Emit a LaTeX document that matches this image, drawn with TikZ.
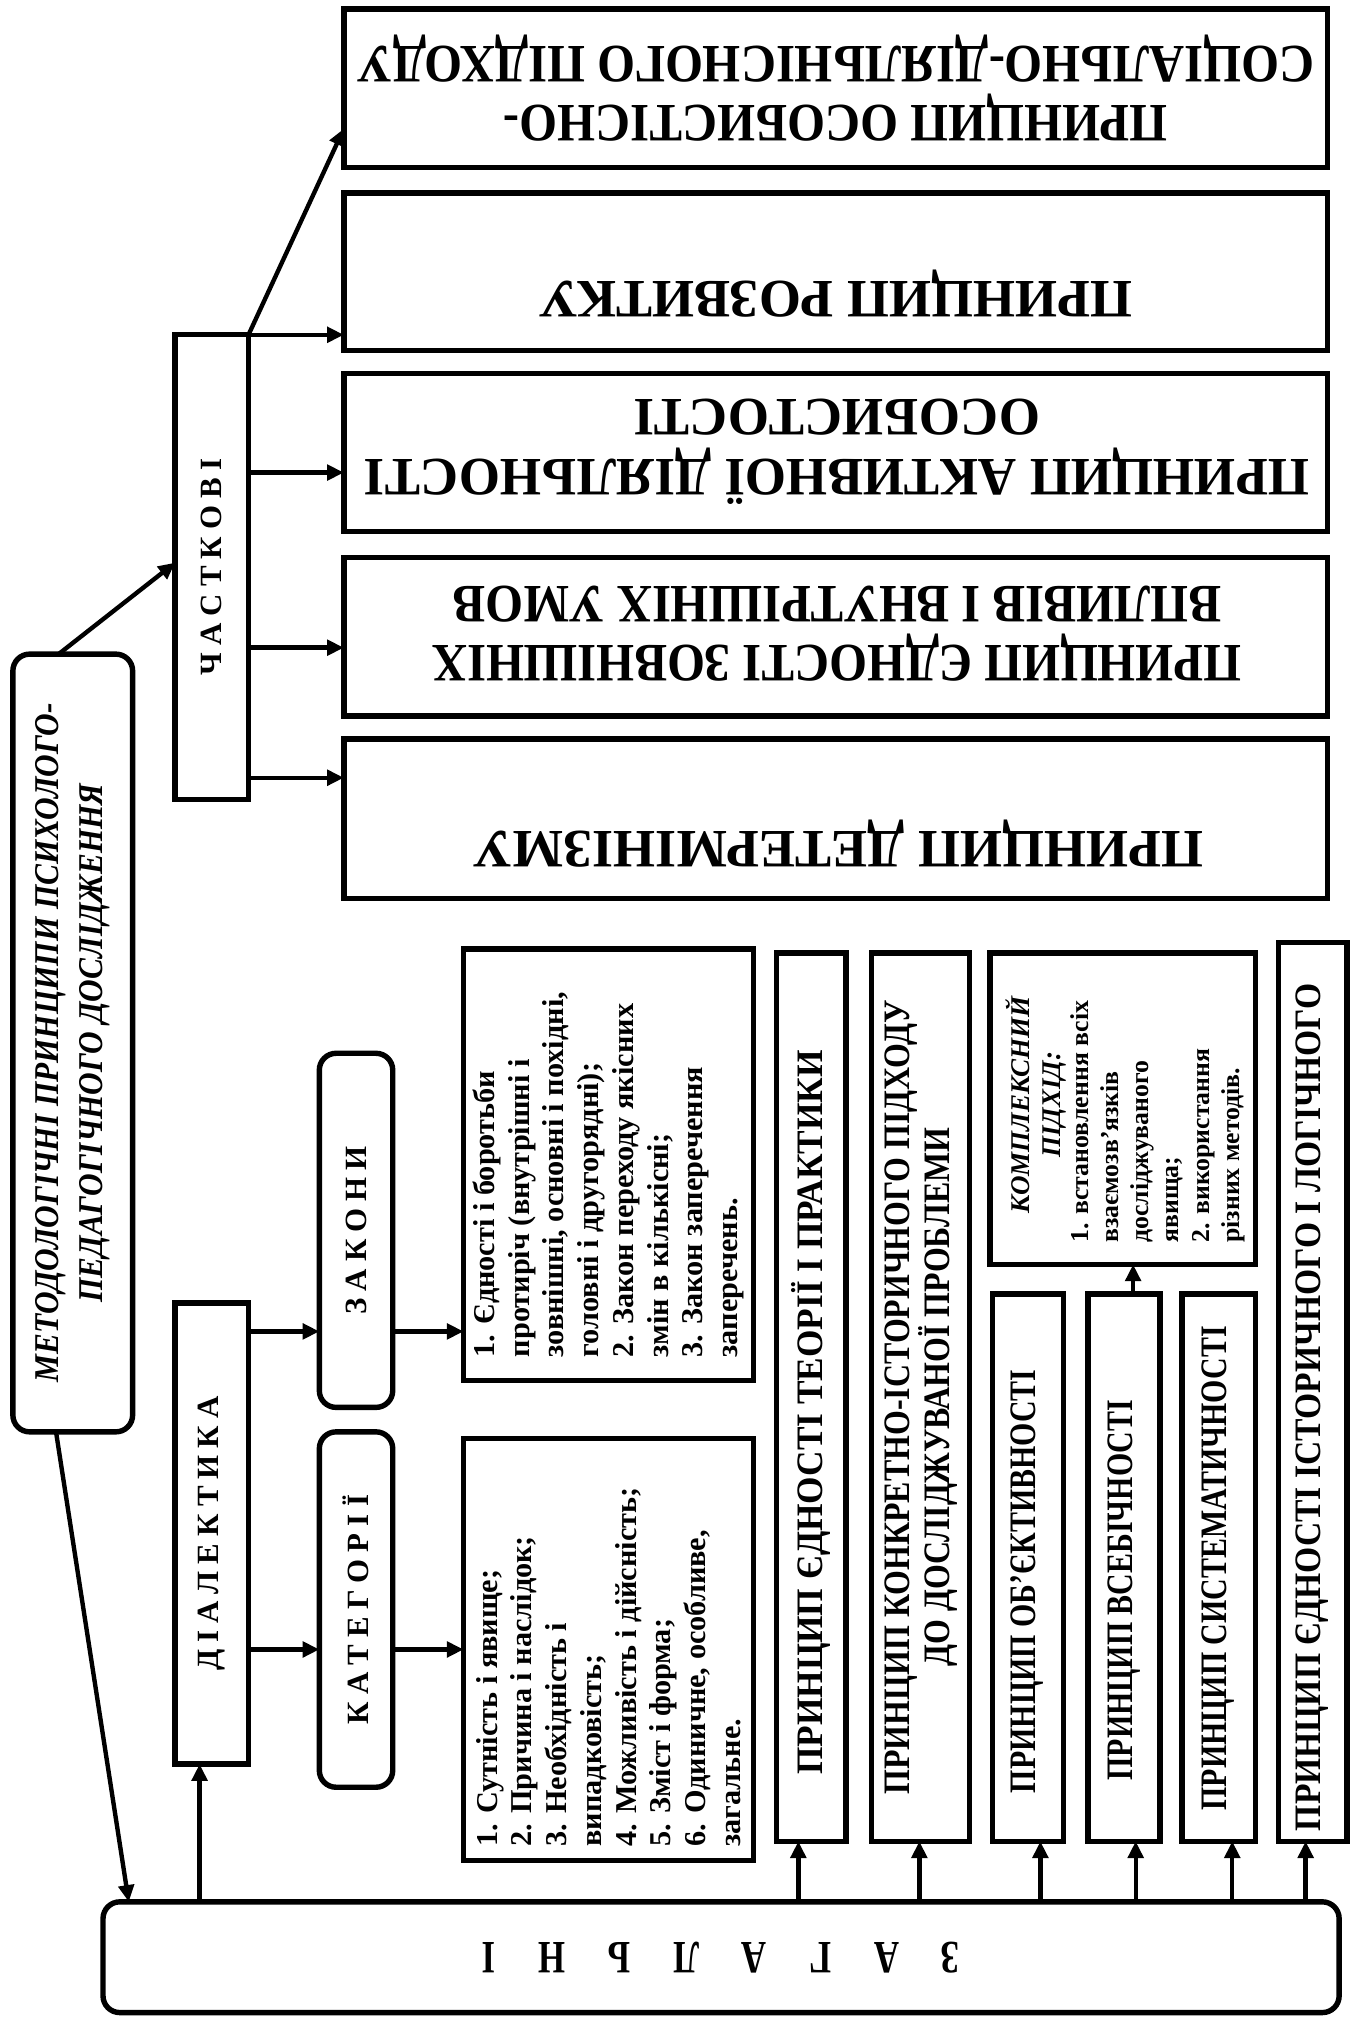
\documentclass[tikz,border=0pt]{standalone}
\usepackage{graphicx}
\usepackage{fontspec}
\setmainfont{Liberation Serif}
\newfontfamily\cnd[FakeStretch=0.9]{Liberation Serif}
\newfontfamily\cndn[FakeStretch=0.75]{Liberation Serif}
\usetikzlibrary{arrows.meta,fit,calc}
\newcommand\sx[2]{\scalebox{#1}[1]{#2}}
\begin{document}
\begin{tikzpicture}[x=1pt,y=-1pt,
  box/.style={draw,line width=4.2pt,inner sep=0pt,outer sep=0pt},
  rbox/.style={box,rounded corners=13pt},
  arr/.style={line width=3.4pt,-{Triangle[length=13pt,width=12pt]}},
  lab/.style={inner sep=0pt,outer sep=0pt,align=center},
  topf/.style={font=\cnd\bfseries\fontsize{42}{46}\selectfont},
  topw/.style={font=\bfseries\fontsize{42}{47}\selectfont},
  colf/.style={font=\cnd\bfseries\fontsize{29}{31}\selectfont},
  spf/.style={font={\bfseries\fontsize{24}{24}\selectfont\spaceskip 5.5pt\relax}},
  listf/.style={font=\bfseries\fontsize{23.5}{27}\selectfont},
]
\useasboundingbox (0,0) rectangle (1049,1568);
% top boxes
\node[box,fit={(267,7)(1031,130)}] (pa) {};
\node[box,fit={(267,150)(1031,272)}] (pb) {};
\node[box,fit={(267,290)(1031,413)}] (pc) {};
\node[box,fit={(267,433)(1031,556)}] (pd) {};
\node[box,fit={(267,574)(1031,698)}] (pe) {};
\node[lab,topf,rotate=180] (pat) at (pa.center) {ПРИНЦИП ОСОБИСТІСНО-\\СОЦІАЛЬНО-ДІЯЛЬНІСНОГО ПІДХОДУ};
\node[lab,topw,rotate=180] (pbt) at (649,228) {ПРИНЦИП РОЗВИТКУ};
\node[lab,topw,rotate=180] (pct) at (650,351) {\sx{.98}{ПРИНЦИП АКТИВНОЇ ДІЯЛЬНОСТІ}\\\sx{.98}{ОСОБИСТОСТІ}};
\node[lab,topf,rotate=180] (pdt) at (650,492) {ПРИНЦИП ЄДНОСТІ ЗОВНІШНІХ\\ВПЛИВІВ І ВНУТРІШНІХ УМОВ};
\node[lab,topw,rotate=180] (pet) at (651,655) {ПРИНЦИП ДЕТЕРМІНІЗМУ};
% chastkovi
\node[box,fit={(136,260)(193,621)}] (ch) {};
\node[lab,spf,rotate=90] (cht) at (ch.center) {Ч А С Т К О В І};
% title
\node[rbox,fit={(10,508)(103,1112)}] (mt) {};
\node[lab,rotate=90,font=\cnd\bfseries\itshape\fontsize{27}{34}\selectfont] (mtt) at (mt.center) {МЕТОДОЛОГІЧНІ ПРИНЦИПИ ПСИХОЛОГО-\\ПЕДАГОГІЧНОГО ДОСЛІДЖЕННЯ};
% bottom
\node[rbox,fit={(80,1477)(1040,1563)}] (zg) {};
\node[lab,rotate=180,font={\cndn\bfseries\fontsize{36}{36}\selectfont\spaceskip 33pt\relax}] (zgt) at (zg.center) {З А Г А Л Ь Н І};
% dialectics
\node[box,fit={(136,1012)(193,1370)}] (di) {};
\node[lab,spf,rotate=90] (dit) at (di.center) {Д І А Л Е К Т И К А};
\node[rbox,fit={(248,818)(305,1093)}] (zk) {};
\node[lab,spf,rotate=90] (zkt) at (zk.center) {З А К О Н И};
\node[rbox,fit={(248,1112)(305,1388)}] (kt) {};
\node[lab,spf,rotate=90] (ktt) at (kt.center) {К А Т Е Г О Р І Ї};
\node[box,fit={(360,737)(585,1072)}] (zl) {};
\node[box,fit={(360,1117)(585,1445)}] (kl) {};
\node[lab,listf,rotate=90,anchor=west,align=left] (zlt) at (472.5,1054) {1. Єдності і боротьби\\протиріч (внутрішні і\\зовнішні, основні і похідні,\\головні і другорядні);\\2. Закон переходу якісних\\змін в кількісні;\\3. Закон заперечення\\заперечень.};
\node[lab,listf,rotate=90,anchor=west,align=left] (klt) at (472.5,1434) {1. Сутність і явище;\\2. Причина і наслідок;\\3. Необхідність і\\випадковість;\\4. Можливість і дійсність;\\5. Зміст і форма;\\6. Одиничне, особливе,\\загальне.};
% columns
\node[box,fit={(603,740)(657,1430)}] (c1) {};
\node[box,fit={(677,740)(753,1430)}] (c2) {};
\node[box,fit={(769,740)(975,982)}] (kp) {};
\node[box,fit={(771,1005)(826,1430)}] (c3) {};
\node[box,fit={(845,1005)(901,1430)}] (c4) {};
\node[box,fit={(918,1005)(975,1430)}] (c5) {};
\node[box,fit={(993,732)(1046,1430)}] (c6) {};
\node[lab,colf,rotate=90] (c1t) at (630,1097) {\sx{1.05}{ПРИНЦИП ЄДНОСТІ ТЕОРІЇ І ПРАКТИКИ}};
\node[lab,colf,rotate=90] (c2t) at (715,1085) {\sx{.95}{ПРИНЦИП КОНКРЕТНО-ІСТОРИЧНОГО ПІДХОДУ}\\\sx{.95}{ДО ДОСЛІДЖУВАНОЇ ПРОБЛЕМИ}};
\node[lab,colf,rotate=90] (c3t) at (798,1228) {\sx{.89}{ПРИНЦИП ОБ’ЄКТИВНОСТІ}};
\node[lab,colf,rotate=90] (c4t) at (873,1235) {\sx{.89}{ПРИНЦИП ВСЕБІЧНОСТІ}};
\node[lab,colf,rotate=90] (c5t) at (946,1218) {\sx{.89}{ПРИНЦИП СИСТЕМАТИЧНОСТІ}};
\node[lab,colf,rotate=90] (c6t) at (1019,1093) {ПРИНЦИП ЄДНОСТІ ІСТОРИЧНОГО І ЛОГІЧНОГО};
\node[lab,rotate=90,font=\bfseries\itshape\fontsize{21}{23.5}\selectfont] (kph) at (804.5,858) {КОМПЛЕКСНИЙ\\ПІДХІД:};
\node[lab,rotate=90,anchor=west,align=left,font=\bfseries\fontsize{20}{23.5}\selectfont] (kpl) at (899,965) {1. встановлення всіх\\взаємозв’язків\\досліджуваного\\явища;\\2. використання\\різних методів.};
% connectors
\draw[arr] ($(mt.north)+(-11,0)$) -- (ch.west |- 0,437);
\draw[arr] ($(mt.south)+(-13,0)$) -- ($(zg.north west)+(20,0)$);
\draw[arr] (ch.north east) -- (pa.west |- 0,100);
\foreach \yy/\tg in {260/pb,367/pc,503/pd,604/pe}
  \draw[arr] (ch.east |- 0,\yy) -- (\tg.west |- 0,\yy);
\draw[arr] (di.east |- 0,1034) -- (zk.west |- 0,1034);
\draw[arr] (di.east |- 0,1281) -- (kt.west |- 0,1281);
\draw[arr] (zk.east |- 0,1034) -- (zl.west |- 0,1034);
\draw[arr] (kt.east |- 0,1281) -- (kl.west |- 0,1281);
\foreach \xx/\tg in {155/di,620/c1,714/c2,808/c3,882/c4,957/c5,1014/c6}
  \draw[arr] (zg.north -| \xx,0) -- (\tg.south -| \xx,0);
\draw[arr] (c4.north -| 880,0) -- (kp.south -| 880,0);
\end{tikzpicture}
\end{document}
